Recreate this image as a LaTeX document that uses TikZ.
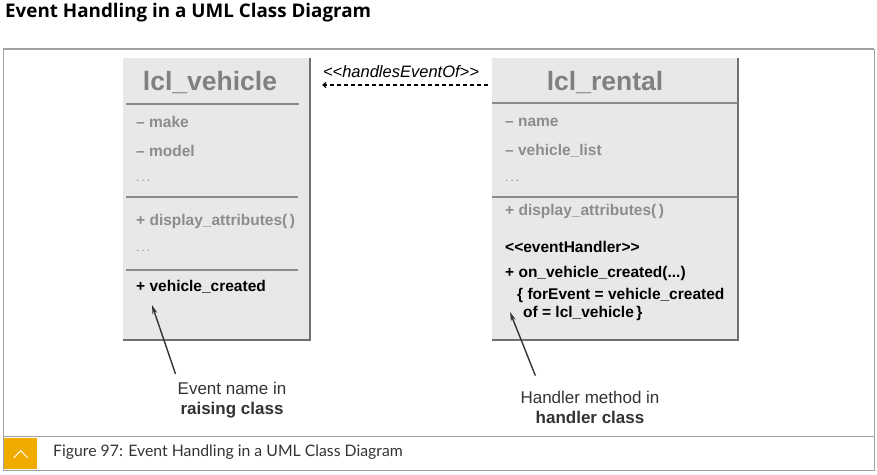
\documentclass[tikz,border=0pt]{standalone}
\usepackage{fontspec}
\setmainfont{Liberation Sans}
\newfontfamily\headfont{Lato}
\newfontfamily\titlefont{Open Sans}
\usetikzlibrary{arrows,arrows.meta,positioning}
\definecolor{boxfill}{HTML}{E8E8E8}
\definecolor{txtgray}{HTML}{8C8C8C}
\definecolor{namegray}{HTML}{808080}
\definecolor{linegray}{HTML}{8A8A8A}
\definecolor{shadowgray}{HTML}{707070}
\definecolor{framegray}{HTML}{A0A0A0}
\definecolor{sapgold}{HTML}{F0AB00}
\tikzstyle{cls}=[rectangle,fill=boxfill,inner sep=0pt,anchor=north west]
\tikzstyle{cname}=[inner sep=0pt,font=\fontsize{26.5}{30}\selectfont\bfseries,text=namegray]
\tikzstyle{item}=[anchor=west,inner sep=0pt,font=\fontsize{15.5}{18}\selectfont\bfseries,text=txtgray]
\tikzstyle{dots}=[anchor=west,inner sep=0pt,font=\fontsize{12}{14}\selectfont,text=txtgray]
\tikzstyle{evt}=[item,text=black]
\tikzstyle{divider}=[draw=linegray,line width=1.2pt]
\tikzstyle{headrule}=[draw=linegray,line width=2.6pt]
\tikzstyle{boxshadow}=[draw=shadowgray,line width=2pt]
\tikzstyle{note}=[align=center,inner sep=0pt,font=\fontsize{17}{20}\selectfont,text=black!80]
\tikzstyle{arr}=[-{Stealth[length=9pt,width=5pt]},line width=1.4pt,black!80]
\tikzstyle{dep}=[-{To[length=4pt,width=6pt]},dash pattern=on 4pt off 3pt,line width=1.1pt]

\begin{document}
\begin{tikzpicture}[x=1pt,y=1pt]
\useasboundingbox (0,0) rectangle (877,-474);
% heading and frame
\node (ttl) [anchor=west,inner sep=0pt,font=\titlefont\fontsize{18.8}{22}\selectfont\bfseries] at (5,-13) {Event Handling in a UML Class Diagram};
\draw [framegray,line width=0.8pt] (3,-49) rectangle (874,-470);
\draw [framegray,line width=2pt] (3,-49) -- (874,-49);
\draw [framegray,line width=1pt] (3,-436.5) -- (874,-436.5);
\node (tog) [rectangle,fill=sapgold,inner sep=0pt,minimum width=33,minimum height=31,anchor=north west] at (4,-438) {};
\draw [white,line width=0.9pt] ([shift={(-7,-4)}]tog.center) -- ([shift={(0,3)}]tog.center) -- ([shift={(7,-4)}]tog.center);
\node (cap) [anchor=west,inner sep=0pt,font=\headfont\fontsize{15.8}{18}\selectfont,text=black!80] at (53,-452) {Figure 97: Event Handling in a UML Class Diagram};

% class lcl_vehicle
\node (veh) [cls,minimum width=187,minimum height=282] at (123,-58) {};
\draw [boxshadow] (veh.north east) -- (veh.south east) -- (veh.south west);
\node (vname) [cname] at (210,-83) {lcl\_vehicle};
\draw [headrule] (126,-104) -- (299,-104);
\node (vmake) [item] at (136,-122) {-- make};
\node (vmodel) [item] at (136,-151) {-- model};
\node (vdots) [dots] at (136,-181) {.\,.\,.};
\draw [divider] (126,-197) -- (298,-197);
\node (vdisp) [item] at (136,-221) {+ display\_attributes(\,)};
\node (vdots2) [dots] at (136,-251) {.\,.\,.};
\draw [divider] (126,-270) -- (298,-270);
\node (vevt) [evt] at (136,-287) {+ vehicle\_created};

% class lcl_rental
\node (rent) [cls,minimum width=246,minimum height=282] at (492,-58) {};
\draw [boxshadow] (rent.north east) -- (rent.south east) -- (rent.south west);
\node (rname) [cname] at (605,-83) {lcl\_rental};
\draw [headrule] (rent.west |- 0,-103) -- (rent.east |- 0,-103);
\node (rnm) [item] at (505,-122) {-- name};
\node (rlist) [item] at (505,-151) {-- vehicle\_list};
\node (rdots) [dots] at (505,-181) {.\,.\,.};
\draw [divider] (rent.west |- 0,-197) -- (rent.east |- 0,-197);
\node (rdisp) [item] at (505,-211) {+ display\_attributes(\,)};
\node (rster) [evt] at (505,-247) {<{}<eventHandler>{}>};
\node (rhdl) [evt] at (505,-273) {+ on\_vehicle\_created(...)};
\node (rfor) [evt] at (517,-295) {\{ forEvent = vehicle\_created};
\node (rof) [evt] at (523,-313) {of = lcl\_vehicle\,\}};

% dependency between the classes
\node (hev) [inner sep=0pt,font=\fontsize{16.5}{18}\selectfont\itshape] at (401,-72) {<{}<handlesEventOf>{}>};
\draw [dep] ([shift={(-4,-27)}]rent.north west) -- ([shift={(12,-27)}]veh.north east);

% callouts
\node (evlbl) [note] at (232,-400) {Event name in\\\textbf{raising class}};
\coordinate (evtip) at (152,-305);
\draw [arr] ([shift={(-2,8)}]evlbl.north west) -- (evtip);
\node (hdlbl) [note] at (590,-407) {Handler method in\\\textbf{handler class}};
\coordinate (hdtip) at (510,-312);
\draw [arr] ([shift={(15,15)}]hdlbl.north west) -- (hdtip);
\end{tikzpicture}
\end{document}
